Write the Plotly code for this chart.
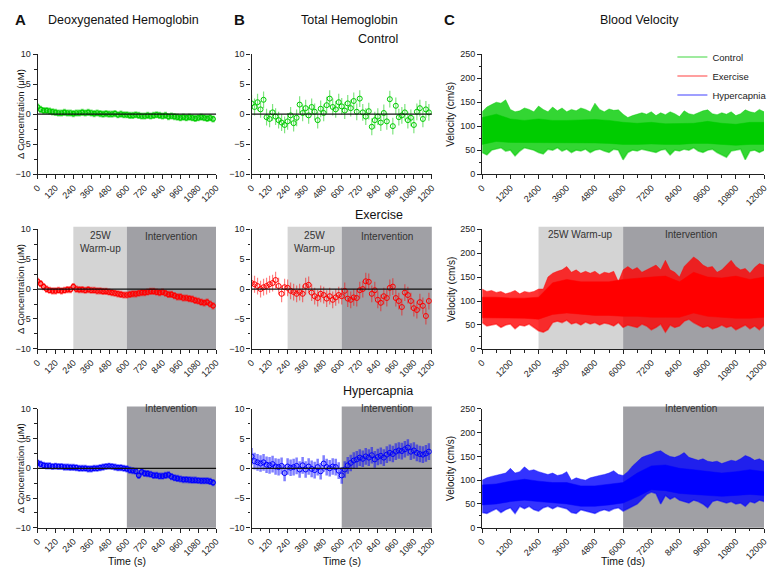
import plotly.graph_objects as go

# The page body keeps its default 8 px margin; the figure is sized so the whole page is 781 x 581.
OFF = 8
W, H = 765, 565
FONT = "Liberation Sans, Arial, sans-serif"

# ---------------- data ----------------
T = list(range(0, 1200, 20))  # time points (s)

A_CTRL = [1.2, 0.8, 0.6, 0.6, 0.5, 0.4, 0.3, 0.2, 0.2, 0.3, 0.2, 0.2, 0.1, 0.2, 0.2, 0.3, 0.2, 0.3, 0.2, 0.1,
          0.2, 0.1, 0.0, 0.1, 0.0, 0.0, 0.1, -0.1, 0.0, -0.1, -0.1, -0.2, -0.2, -0.1, -0.2, -0.3, -0.3, -0.2, -0.3, -0.2,
          -0.1, -0.2, -0.3, -0.2, -0.4, -0.3, -0.4, -0.5, -0.6, -0.5, -0.6, -0.5, -0.6, -0.7, -0.6, -0.5, -0.6, -0.7, -0.6, -0.8]
A_EXER = [1.3, 0.9, 0.4, 0.0, -0.2, -0.3, -0.3, -0.2, -0.3, -0.2, -0.1, -0.1, 0.4, 0.0, -0.1, -0.1, -0.2, -0.1, -0.2, -0.2,
          -0.3, -0.3, -0.4, -0.4, -0.5, -0.6, -0.7, -0.8, -0.9, -1.0, -1.0, -0.9, -0.8, -0.8, -0.7, -0.6, -0.6, -0.5, -0.4, -0.4,
          -0.5, -0.6, -0.5, -0.7, -0.9, -0.9, -1.1, -1.3, -1.3, -1.5, -1.5, -1.6, -1.7, -1.9, -2.0, -2.2, -2.3, -2.2, -2.5, -2.8]
A_HYPE = [0.9, 0.7, 0.5, 0.4, 0.4, 0.3, 0.35, 0.3, 0.3, 0.2, 0.2, 0.15, 0.15, 0.1, 0.0, 0.0, 0.0, -0.1, -0.1, 0.0,
          0.0, 0.1, 0.2, 0.3, 0.35, 0.3, 0.2, 0.1, 0.1, 0.0, -0.1, -0.3, -0.4, -0.5, -1.2, -0.6, -0.85, -0.9, -1.0, -1.2,
          -1.2, -1.3, -1.3, -1.2, -1.1, -1.4, -1.6, -1.7, -1.8, -1.9, -1.9, -1.95, -2.0, -2.0, -2.05, -2.1, -2.1, -2.1, -2.2, -2.4]
A_SD = 0.6

B_CTRL = [1.8, 1.2, 2.0, 0.8, 2.4, -0.5, -0.8, 0.3, -0.4, -1.0, -1.4, -1.8, -1.2, -0.2, -1.5, -0.6, 1.6, 0.2, 1.0, -0.2,
          1.2, 0.4, -1.0, 0.9, 0.2, 1.5, 2.6, 1.2, 0.8, 2.0, 1.3, 0.6, 1.8, 1.0, 2.2, 0.4, 2.6, 0.3, -0.4, 0.5,
          -2.1, -1.0, -0.4, -1.4, 0.2, -1.2, 2.5, -2.0, 1.4, -0.5, -0.2, 0.3, -1.0, -0.6, -1.8, 0.4, 1.0, -0.8, 0.8, 0.3]
B_EXER = [1.0, 0.8, 0.5, 0.0, 0.3, 0.5, 0.8, 1.0, 1.5, 0.5, -0.8, 0.3, 0.2, -0.3, -0.5, -0.8, -0.5, -0.8, 0.5, 0.7,
          -0.6, -1.2, -1.5, -0.8, -1.0, -1.6, -1.2, -1.8, -1.4, -1.0, -1.2, -0.3, -1.6, -1.8, -1.4, -1.5, -0.2, 0.0, 1.3, 1.2,
          -0.8, -0.2, -1.8, -2.3, -1.2, -1.5, 0.2, 0.4, -1.5, -2.0, -3.0, -0.6, -1.0, -2.0, -3.2, -3.5, -2.2, -2.8, -4.5, -2.0]
B_HYPE = [2.0, 1.2, 1.0, 0.8, 1.0, 0.6, 0.5, 0.7, 0.3, 0.2, 0.4, -0.8, 0.3, 0.1, 0.2, 0.4, -0.2, 0.5, -0.2, 0.3,
          -0.1, -0.3, 0.2, -0.5, 0.8, 0.2, 0.0, 0.3, 0.2, -0.4, -1.2, -0.2, 0.5, 0.9, 1.3, 1.5, 1.8, 1.6, 2.0, 1.8,
          2.2, 1.5, 1.9, 2.1, 1.8, 2.3, 2.6, 2.4, 2.8, 3.0, 2.9, 3.2, 3.5, 2.8, 3.0, 2.6, 2.4, 2.3, 2.5, 2.8]
B_SD = 1.4

TV = list(range(0, 12001, 200))   # velocity envelope time (ds)
TC = list(range(0, 12001, 600))   # velocity core time (ds)

C_CTRL_HI = [130, 140, 145, 150, 148, 155, 135, 130, 132, 138, 135, 130, 142, 135, 130, 140, 132, 138, 130, 135,
             132, 138, 135, 130, 148, 135, 130, 136, 133, 134, 125, 118, 122, 125, 128, 125, 130, 122, 128, 124,
             130, 126, 120, 132, 126, 124, 128, 132, 134, 126, 124, 128, 125, 130, 122, 126, 134, 130, 128, 135, 130]
C_CTRL_LO = [45, 40, 50, 52, 55, 48, 50, 38, 48, 55, 52, 50, 45, 42, 52, 50, 55, 48, 52, 45,
             50, 48, 52, 45, 50, 52, 48, 45, 52, 50, 30, 45, 50, 48, 52, 50, 48, 45, 50, 52,
             40, 50, 48, 52, 50, 55, 48, 45, 50, 52, 45, 40, 35, 48, 50, 52, 30, 48, 50, 45, 50]
C_CTRL_CORE_HI = [118, 125, 115, 112, 115, 112, 112, 113, 114, 112, 108, 106, 108, 105, 106, 106, 110, 106, 104, 108, 108]
C_CTRL_CORE_LO = [62, 68, 66, 66, 65, 66, 66, 66, 65, 64, 62, 62, 63, 62, 62, 64, 64, 62, 60, 62, 62]

C_EXER_HI = [125, 120, 122, 118, 120, 115, 118, 122, 115, 120, 118, 120, 125, 125, 150, 158, 162, 165, 172, 160,
             165, 158, 162, 158, 162, 155, 160, 158, 162, 140, 165, 172, 165, 170, 160, 165, 170, 175, 165, 185,
             165, 160, 150, 172, 182, 192, 185, 175, 170, 172, 160, 165, 175, 185, 172, 165, 168, 158, 170, 178, 175]
C_EXER_LO = [55, 48, 50, 52, 45, 50, 52, 42, 50, 48, 52, 45, 38, 35, 40, 55, 58, 55, 60, 52,
             55, 50, 56, 52, 55, 50, 54, 52, 48, 55, 45, 50, 48, 45, 52, 48, 40, 45, 52, 35,
             50, 45, 48, 58, 62, 55, 50, 45, 48, 42, 45, 50, 45, 48, 40, 45, 50, 42, 48, 40, 50]
C_EXER_CORE_HI = [108, 108, 106, 106, 108, 138, 145, 140, 140, 140, 145, 148, 150, 152, 140, 160, 150, 148, 152, 145, 150]
C_EXER_CORE_LO = [65, 65, 64, 64, 62, 72, 75, 72, 70, 70, 68, 68, 66, 66, 66, 75, 68, 66, 64, 64, 66]

C_HYPE_HI = [100, 105, 108, 110, 112, 115, 125, 115, 118, 128, 120, 122, 118, 115, 112, 115, 110, 112, 118, 100,
             105, 102, 100, 105, 108, 110, 112, 115, 120, 112, 110, 118, 130, 140, 148, 152, 155, 160, 162, 155,
             150, 148, 152, 158, 148, 145, 142, 145, 140, 138, 140, 135, 138, 142, 140, 145, 152, 148, 142, 145, 140]
C_HYPE_LO = [32, 30, 35, 40, 32, 38, 42, 30, 45, 40, 45, 38, 35, 42, 45, 40, 45, 42, 40, 32,
             30, 38, 35, 32, 30, 35, 38, 35, 40, 42, 35, 40, 45, 50, 60, 70, 75, 72, 50, 68,
             60, 65, 58, 55, 52, 58, 55, 50, 42, 55, 58, 55, 52, 55, 50, 52, 45, 55, 52, 58, 55]
C_HYPE_CORE_HI = [90, 92, 98, 102, 98, 95, 95, 88, 88, 92, 95, 115, 130, 132, 125, 122, 118, 115, 118, 122, 118]
C_HYPE_CORE_LO = [48, 50, 55, 58, 55, 52, 50, 45, 45, 48, 52, 65, 80, 78, 72, 70, 68, 66, 68, 70, 68]

GROUPS = ["Control", "Exercise", "Hypercapnia"]

# ---------------- styling ----------------
COL = {"Control": (0, 204, 0), "Exercise": (255, 0, 0), "Hypercapnia": (0, 0, 255)}
def rgb(c, a=1.0):
    return f"rgba({c[0]},{c[1]},{c[2]},{a})"

# plot areas in page pixels
colx = [(32, 213), (249, 432), (483, 769)]
rowy = [(50, 172), (228, 350), (411, 532)]

def px(x):
    return (x - OFF) / W

def py(y):
    return 1 - (y - OFF) / H

fig = go.Figure()
layout = {}
shapes = []
annotations = []

AX_COMMON = dict(showgrid=False, zeroline=False, showline=True, linecolor="#222", linewidth=1.2,
                 ticks="outside", ticklen=4, tickwidth=1.1, tickcolor="#222",
                 tickfont=dict(size=9, color="#222", family=FONT))

A_data = [A_CTRL, A_EXER, A_HYPE]
B_data = [B_CTRL, B_EXER, B_HYPE]
C_data = [(C_CTRL_HI, C_CTRL_LO, C_CTRL_CORE_HI, C_CTRL_CORE_LO),
          (C_EXER_HI, C_EXER_LO, C_EXER_CORE_HI, C_EXER_CORE_LO),
          (C_HYPE_HI, C_HYPE_LO, C_HYPE_CORE_HI, C_HYPE_CORE_LO)]

for r in range(3):
    g = GROUPS[r]
    c = COL[g]
    for col in range(3):
        n = r * 3 + col + 1
        sfx = "" if n == 1 else str(n)
        xa, ya = f"x{sfx}", f"y{sfx}"
        xd = [px(colx[col][0]), px(colx[col][1])]
        yd = [py(rowy[r][1]), py(rowy[r][0])]
        if col < 2:
            layout[f"xaxis{sfx}"] = dict(AX_COMMON, domain=xd, anchor=ya, range=[0, 1200], tick0=0, dtick=120,
                                         tickangle=-45, tickformat="d",
                                         minor=dict(ticks="outside", ticklen=2.5, dtick=60, tickcolor="#222"))
            layout[f"yaxis{sfx}"] = dict(AX_COMMON, domain=yd, anchor=xa, range=[-10, 10], tick0=0, dtick=5,
                                         minor=dict(ticks="outside", ticklen=2.5, dtick=2.5, tickcolor="#222"))
        else:
            layout[f"xaxis{sfx}"] = dict(AX_COMMON, domain=xd, anchor=ya, range=[0, 12000], tick0=0, dtick=1200,
                                         tickangle=-45, tickformat="d",
                                         minor=dict(ticks="outside", ticklen=2.5, dtick=600, tickcolor="#222"))
            layout[f"yaxis{sfx}"] = dict(AX_COMMON, domain=yd, anchor=xa, range=[0, 250], tick0=0, dtick=50,
                                         minor=dict(ticks="outside", ticklen=2.5, dtick=25, tickcolor="#222"))

        # shaded periods
        if col < 2:
            per = {0: [], 1: [(240, 600, "#d4d4d4"), (600, 1200, "#a0a0a5")], 2: [(600, 1200, "#a0a0a5")]}[r]
        else:
            per = {0: [], 1: [(2400, 6000, "#d4d4d4"), (6000, 12000, "#a0a0a5")], 2: [(6000, 12000, "#a0a0a5")]}[r]
        for (x0, x1, fc) in per:
            shapes.append(dict(type="rect", xref=xa, yref=f"{ya} domain", x0=x0, x1=x1, y0=0, y1=1.02,
                               fillcolor=fc, line=dict(width=0), layer="below"))

        if col == 0:
            fig.add_trace(go.Scatter(x=T, y=A_data[r], mode="markers", xaxis=xa, yaxis=ya, showlegend=False,
                                     marker=dict(symbol="circle-open", size=4.5, color=rgb(c), line=dict(width=1.2)),
                                     error_y=dict(type="constant", value=A_SD, color=rgb(c, 0.5),
                                                  thickness=3, width=0)))
        elif col == 1:
            fig.add_trace(go.Scatter(x=T, y=B_data[r], mode="markers", xaxis=xa, yaxis=ya, showlegend=False,
                                     marker=dict(symbol="circle-open", size=5, color=rgb(c), line=dict(width=1)),
                                     error_y=dict(type="constant", value=B_SD, color=rgb(c, 0.5),
                                                  thickness=2.5 if r == 2 else 1.2, width=0)))
        else:
            hi, lo, chi, clo = C_data[r]
            fig.add_trace(go.Scatter(x=TV, y=lo, mode="lines", xaxis=xa, yaxis=ya, name=g, showlegend=True,
                                     line=dict(color=rgb(c, 0.5), width=1.5)))
            fig.add_trace(go.Scatter(x=TV, y=hi, mode="lines", xaxis=xa, yaxis=ya, showlegend=False,
                                     fill="tonexty", fillcolor=rgb(c, 0.8),
                                     line=dict(color=rgb(c, 0.5), width=0.8)))
            fig.add_trace(go.Scatter(x=TC, y=clo, mode="lines", xaxis=xa, yaxis=ya, showlegend=False,
                                     line=dict(color=rgb(c), width=0.5)))
            fig.add_trace(go.Scatter(x=TC, y=chi, mode="lines", xaxis=xa, yaxis=ya, showlegend=False,
                                     fill="tonexty", fillcolor=rgb(c), line=dict(color=rgb(c), width=0.5)))

        if col < 2:
            shapes.append(dict(type="line", xref=f"{xa} domain", yref=ya, x0=0, x1=1, y0=0, y1=0,
                               line=dict(color="#111", width=1.3), layer="above"))

        # period labels
        if r == 1:
            if col < 2:
                annotations.append(dict(x=420, y=py(241.5), xref=xa, yref="paper", text="25W<br>Warm-up",
                                        showarrow=False, font=dict(size=10, color="#333", family=FONT)))
                annotations.append(dict(x=900, y=py(236), xref=xa, yref="paper", text="Intervention",
                                        showarrow=False, font=dict(size=10, color="#333", family=FONT)))
            else:
                annotations.append(dict(x=4200, y=py(233), xref=xa, yref="paper", text="25W Warm-up",
                                        showarrow=False, font=dict(size=10, color="#333", family=FONT)))
                annotations.append(dict(x=8900, y=py(233), xref=xa, yref="paper", text="Intervention",
                                        showarrow=False, font=dict(size=10, color="#333", family=FONT)))
        if r == 2:
            xi = 900 if col < 2 else 8900
            annotations.append(dict(x=xi, y=py(418.5), xref=xa, yref="paper", text="Intervention",
                                    showarrow=False, font=dict(size=10, color="#333", family=FONT)))

def txt(x, y, s, size, bold=False, angle=0):
    annotations.append(dict(x=px(x), y=py(y), xref="paper", yref="paper", text=f"<b>{s}</b>" if bold else s,
                            showarrow=False, textangle=angle, xanchor="center", yanchor="middle",
                            font=dict(size=size, color="#111", family=FONT)))

txt(15, 15, "A", 15, bold=True)
txt(237, 15, "B", 15, bold=True)
txt(450, 15, "C", 15, bold=True)
txt(119, 15, "Deoxygenated Hemoglobin", 12.5)
txt(348, 15, "Total Hemoglobin", 12.5)
txt(643, 15, "Blood Velocity", 12.5)
txt(377, 34, "Control", 12.5)
txt(378, 214, "Exercise", 12.5)
txt(377, 393, "Hypercapnia", 12.5)
for r in range(3):
    cy = (rowy[r][0] + rowy[r][1]) / 2
    txt(14, cy, "Δ Concentration (μM)", 9.5, angle=-90)
    txt(451, cy, "Velocity (cm/s)", 10, angle=-90)
txt(123, 566, "Time (s)", 10.5)
txt(341, 566, "Time (s)", 10.5)
txt(626, 566, "Time (ds)", 10.5)

fig.update_layout(
    width=W, height=H, autosize=False,
    margin=dict(l=0, r=0, t=0, b=0),
    paper_bgcolor="white", plot_bgcolor="white",
    font=dict(family=FONT, color="#111"),
    shapes=shapes, annotations=annotations,
    legend=dict(x=px(676), y=py(38), xanchor="left", yanchor="top", bgcolor="rgba(0,0,0,0)",
                traceorder="normal", borderwidth=0,
                font=dict(size=9.5, color="#222", family=FONT), tracegroupgap=0, itemwidth=30),
    **layout,
)

fig.write_html("out.html")
